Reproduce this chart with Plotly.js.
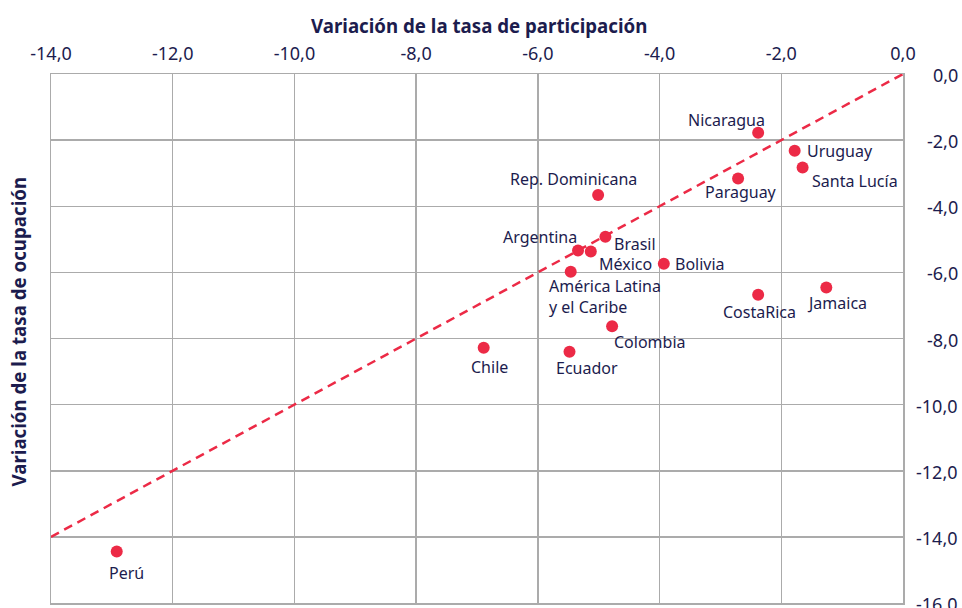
<!DOCTYPE html>
<html>
<head>
<meta charset="utf-8">
<script src="https://cdn.plot.ly/plotly-3.0.1.min.js"></script>
<style>html,body{margin:0;padding:0;background:#fff;overflow:hidden;}#chart{width:962px;height:608px;}</style>
</head>
<body>
<div id="chart"></div>
<script>
// Data
const countries = ["Nicaragua","Uruguay","Santa Lucía","Paraguay","Rep. Dominicana","Brasil","Argentina","México","Bolivia","América Latina<br>y el Caribe","CostaRica","Jamaica","Colombia","Chile","Ecuador","Perú"];
const partVar = [-2.38,-1.78,-1.65,-2.71,-5.01,-4.89,-5.34,-5.13,-3.93,-5.46,-2.38,-1.26,-4.78,-6.89,-5.48,-12.92];
const ocupVar = [-1.78,-2.32,-2.83,-3.16,-3.66,-4.92,-5.34,-5.37,-5.74,-5.98,-6.68,-6.46,-7.63,-8.28,-8.40,-14.44];
const refLineX = [-14,0];
const refLineY = [-14,0];
const xTickVals = [-14,-12,-10,-8,-6,-4,-2,0];
const xTickText = ["-14,0","-12,0","-10,0","-8,0","-6,0","-4,0","-2,0","0,0"];
const yTickVals = [0,-2,-4,-6,-8,-10,-12,-14,-16];
const yTickText = ["0,0","-2,0","-4,0","-6,0","-8,0","-10,0","-12,0","-14,0","-16,0"];

// label placement (pixel offsets, anchors)
const labelShift = [[-32,13,"center"],[10,0,"left"],[7,-13,"left"],[3,-14,"center"],[-25,16,"center"],[30,-7,"center"],[-38,14,"center"],[35,-12,"center"],[9,0,"left"],[-24,-25,"left"],[1,-17,"center"],[11,-15,"center"],[38,-16,"center"],[6,-19,"center"],[17,-16,"center"],[10,-22,"center"]];

const navy = "#1c1c4e";
const red = "#EC2A46";
const grid = "#ABABAB";

const traces = [
  {x: refLineX, y: refLineY, mode: "lines", type: "scatter", hoverinfo: "skip",
   line: {color: red, width: 2.5, dash: "9px,6px"}},
  {x: partVar, y: ocupVar, mode: "markers", type: "scatter", text: countries,
   marker: {color: red, size: 12}}
];

const annotations = countries.map((c, i) => ({
  x: partVar[i], y: ocupVar[i], text: c, showarrow: false,
  xshift: labelShift[i][0], yshift: labelShift[i][1],
  xanchor: labelShift[i][2], yanchor: "middle", align: "left",
  font: {family: "Noto Sans", size: 16, color: navy}
}));
// right-aligned y tick labels
yTickVals.forEach((v, i) => annotations.push({
  xref: "paper", yref: "y", x: 1, y: v, xshift: 57, xanchor: "right", yanchor: "middle",
  yshift: -1, text: yTickText[i], showarrow: false,
  font: {family: "Noto Sans", size: 18, color: navy}
}));
annotations.push({
  xref: "paper", yref: "paper", x: 0.5, xshift: 2, y: 1, yshift: 49, yanchor: "middle",
  text: "<b>Variación de la tasa de participación</b>", showarrow: false,
  font: {family: "Noto Sans", size: 18.7, color: navy}
});
annotations.push({
  xref: "paper", yref: "paper", x: 0, xshift: -33, y: 0.5, yshift: 7, xanchor: "center",
  textangle: -90, text: "<b>Variación de la tasa de ocupación</b>", showarrow: false,
  font: {family: "Noto Sans", size: 18.7, color: navy}
});

const layout = {
  width: 962, height: 608,
  margin: {l: 51, r: 59, t: 74, b: 5},
  paper_bgcolor: "#fff", plot_bgcolor: "#fff",
  showlegend: false,
  font: {family: "Noto Sans", color: navy, size: 18},
  xaxis: {range: [-14, 0], side: "top", tickvals: xTickVals, ticktext: xTickText,
    showgrid: true, gridcolor: grid, gridwidth: 1.5, zeroline: false,
    showline: true, linecolor: grid, linewidth: 1.5, mirror: true,
    ticks: "", ticklabelstandoff: 5, tickfont: {size: 18, color: navy}},
  yaxis: {range: [-16, 0], side: "right", tickvals: yTickVals, showticklabels: false,
    showgrid: true, gridcolor: grid, gridwidth: 1.5, zeroline: false,
    showline: true, linecolor: grid, linewidth: 1.5, mirror: true, ticks: ""},
  annotations: annotations
};

Plotly.newPlot("chart", traces, layout, {displayModeBar: false, staticPlot: true});
</script>
</body>
</html>
